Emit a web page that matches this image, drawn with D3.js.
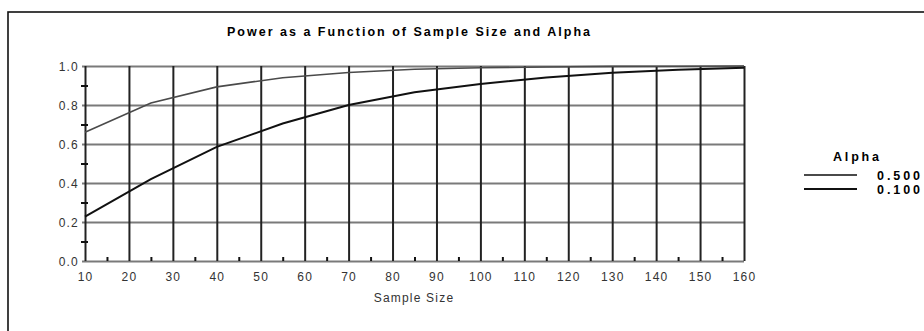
<!DOCTYPE html>
<html><head><meta charset="utf-8">
<script src="https://cdn.jsdelivr.net/npm/d3@7/dist/d3.min.js"></script>
<style>
html,body{margin:0;padding:0;background:#fff;overflow:hidden;}
text{font-family:Arial,"Liberation Sans",sans-serif;}
</style></head>
<body><svg id="c" width="924" height="331"></svg>
<script>
// ---- data ----
const sampleSizes = [10, 25, 40, 55, 70, 85, 100, 115, 130, 145, 160];
const power050 = [0.660, 0.810, 0.893, 0.940, 0.967, 0.983, 0.991, 0.995, 0.998, 0.999, 1.000];
const power010 = [0.227, 0.420, 0.585, 0.705, 0.800, 0.865, 0.908, 0.941, 0.965, 0.981, 0.991];
const seriesNames = ["0.500", "0.100"];
const xTicks = [10,20,30,40,50,60,70,80,90,100,110,120,130,140,150,160];
const xMinorTicks = [15,25,35,45,55,65,75,85,95,105,115,125,135,145,155];
const yTicks = [0.0, 0.2, 0.4, 0.6, 0.8, 1.0];
const yMinorTicks = [0.1, 0.3, 0.5, 0.7, 0.9];
const titleText = "Power as a Function of Sample Size and Alpha";
const xLabel = "Sample Size";
const legendTitle = "Alpha";

const svg = d3.select("#c");
const L = 85, R = 744, T = 66, B = 261;
const x = d3.scaleLinear().domain([10,160]).range([L,R]);
const y = d3.scaleLinear().domain([0,1]).range([B,T]);

// outer frame
svg.append("rect").attr("x",8).attr("y",12).attr("width",940).attr("height",340)
  .attr("fill","none").attr("stroke","#111").attr("stroke-width",1.6);

// title
svg.append("text").attr("x",227).attr("y",36).attr("textLength",363).attr("lengthAdjust","spacing")
  .attr("font-size",12.5).attr("font-weight","bold").attr("fill","#000").text(titleText);

// horizontal gridlines
const gy = svg.append("g").attr("transform",`translate(${L},0)`)
  .call(d3.axisLeft(y).tickValues(yTicks).tickSize(-(R-L)).tickFormat(""));
gy.select(".domain").remove();
gy.selectAll(".tick line").attr("stroke","#7a7a7a").attr("stroke-width",2).attr("x2",R-L).attr("x1",-3);

// vertical gridlines
const gx = svg.append("g").attr("transform",`translate(0,${B})`)
  .call(d3.axisBottom(x).tickValues(xTicks).tickSize(-(B-T)).tickFormat(""));
gx.select(".domain").remove();
gx.selectAll(".tick line").attr("stroke","#222").attr("stroke-width",2);

// minor ticks
const mx = svg.append("g").attr("transform",`translate(0,${B})`)
  .call(d3.axisBottom(x).tickValues(xMinorTicks).tickSize(-4).tickFormat(""));
mx.select(".domain").remove();
mx.selectAll(".tick line").attr("stroke","#111").attr("stroke-width",2);
const my = svg.append("g").attr("transform",`translate(${L},0)`)
  .call(d3.axisLeft(y).tickValues(yMinorTicks).tickSize(4).tickFormat(""));
my.select(".domain").remove();
my.selectAll(".tick line").attr("stroke","#111").attr("stroke-width",2).attr("x2",3).attr("x1",-4);

// x tick labels
const xl = svg.append("g").attr("transform",`translate(0,${B})`)
  .call(d3.axisBottom(x).tickValues(xTicks).tickSize(0).tickFormat(d3.format("d")));
xl.select(".domain").remove();
xl.selectAll(".tick text").attr("y",20).attr("dy",0).attr("font-size",12).attr("letter-spacing",1.2)
  .attr("fill","#333").attr("font-family","Arial, 'Liberation Sans', sans-serif");

// y tick labels
const yl = svg.append("g").attr("transform",`translate(${L},0)`)
  .call(d3.axisLeft(y).tickValues(yTicks).tickSize(0).tickFormat(d3.format(".1f")));
yl.select(".domain").remove();
yl.selectAll(".tick text").attr("x",-6).attr("dy",4.3).attr("font-size",12).attr("letter-spacing",1.2)
  .attr("fill","#333").attr("font-family","Arial, 'Liberation Sans', sans-serif");

// x axis title
svg.append("text").attr("x",414).attr("y",302).attr("text-anchor","middle").attr("font-size",12)
  .attr("letter-spacing",1.2).attr("fill","#333").text(xLabel);

// lines
const line = d3.line().x((d,i)=>x(sampleSizes[i])).y(d=>y(d));
svg.append("path").datum(power050).attr("d",line).attr("fill","none").attr("stroke","#4a4a4a").attr("stroke-width",1.6);
svg.append("path").datum(power010).attr("d",line).attr("fill","none").attr("stroke","#111").attr("stroke-width",2);

// legend
svg.append("text").attr("x",833).attr("y",161).attr("textLength",46).attr("lengthAdjust","spacing")
  .attr("font-size",12.5).attr("font-weight","bold").attr("fill","#000").text(legendTitle);
const legColors = ["#4a4a4a","#111"];
const legW = [1.8, 2];
seriesNames.forEach((s,i)=>{
  const yy = 175 + i*14;
  svg.append("line").attr("x1",804).attr("x2",857).attr("y1",yy).attr("y2",yy)
    .attr("stroke",legColors[i]).attr("stroke-width",legW[i]);
  svg.append("text").attr("x",877).attr("y",yy+4.5).attr("textLength",43).attr("lengthAdjust","spacing")
    .attr("font-size",12.5).attr("font-weight","bold").attr("fill","#000").text(s);
});
</script></body></html>
